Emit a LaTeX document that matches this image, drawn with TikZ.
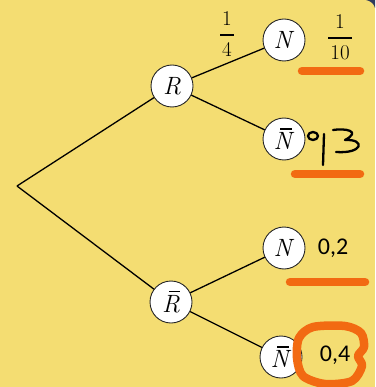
\documentclass[tikz,border=0pt]{standalone}
\usepackage{fontspec}
\newfontfamily\numfont{Carlito}
\definecolor{bgyellow}{HTML}{F4DD72}
\definecolor{penorange}{HTML}{F26A12}
\definecolor{cornerblue}{HTML}{2E3B5C}
\newcommand\evbar[1]{\rlap{\hspace{0.27em}\rule[0.8em]{0.45em}{0.06em}}\textit{#1}}
\newcommand\probfrac[2]{{\renewcommand\arraystretch{1.3}\setlength\arrayrulewidth{1.1pt}%
  \begin{tabular}{@{\hspace{2pt}}c@{\hspace{2pt}}}#1\\\hline #2\end{tabular}}}
\tikzset{
  ev/.style={circle,draw=black!85,fill=white,line width=0.9pt,minimum size=42pt,inner sep=0pt,font=\fontsize{25}{27}\selectfont},
  branch/.style={line width=1.3pt},
  prob/.style={inner sep=0pt,font=\fontsize{21}{23}\selectfont},
  pen/.style={penorange,line width=8.5pt,line cap=round,line join=round},
  hand/.style={black,line width=2.3pt,line cap=round,line join=round}
}
\begin{document}
\begin{tikzpicture}[x=1pt,y=-1pt]
	\fill[bgyellow] (0,0) rectangle (375,387);
	\useasboundingbox (0,0) rectangle (375,387);
	\fill[cornerblue] (366,0) .. controls (371,1) and (374,4) .. (375,8) -- (375,0) -- cycle;
	%tree
	\coordinate (O) at (17,186);
	\node[ev] (R) at (172,86) {\textit{R}};
	\node[ev] (Rb) at (171,302) {\evbar{R}};
	\node[ev] (RN) at (284,40) {\textit{N}};
	\node[ev] (RNb) at (284,139) {\evbar{N}};
	\node[ev] (RbN) at (284,248) {\textit{N}};
	\node[ev] (RbNb) at (281,357) {\evbar{N}};
	\draw[branch] (O) -- (R);
	\draw[branch] (O) -- (Rb);
	\draw[branch] (R) -- (RN);
	\draw[branch] (R) -- (RNb);
	\draw[branch] (Rb) -- (RbN);
	\draw[branch] (Rb) -- (RbNb);
	%probabilities
	\node[prob] (pRN) at (227,35) {\probfrac{1}{4}};
	\node[prob] (pN1) at (340,38) {\probfrac{1}{10}};
	\node[prob,font=\numfont\fontsize{24}{26}\selectfont] (pN3) at (333,248) {0,2};
	\node[prob,font=\numfont\fontsize{24}{26}\selectfont] (pN4) at (335,355) {0,4};
	%handwritten 0,3
	\draw[hand] (313,136) ellipse [x radius=5, y radius=4];
	\draw[hand] (324,134) -- (323,165);
	\draw[hand] (333,130) .. controls (345,128) and (362,131) .. (345,140)
		.. controls (366,139) and (363,154) .. (336,152);
	%orange marks
	\draw[pen] (302,71) -- (360,71);
	\draw[pen] (295,174) -- (360,174);
	\draw[pen] (290,282) -- (365,282);
	\draw[pen] plot[smooth cycle] coordinates {(299,338) (313,327) (345,326) (361,333) (364,347) (358,356) (362,366) (352,381) (325,384) (303,376) (297,358)};
\end{tikzpicture}
\end{document}
